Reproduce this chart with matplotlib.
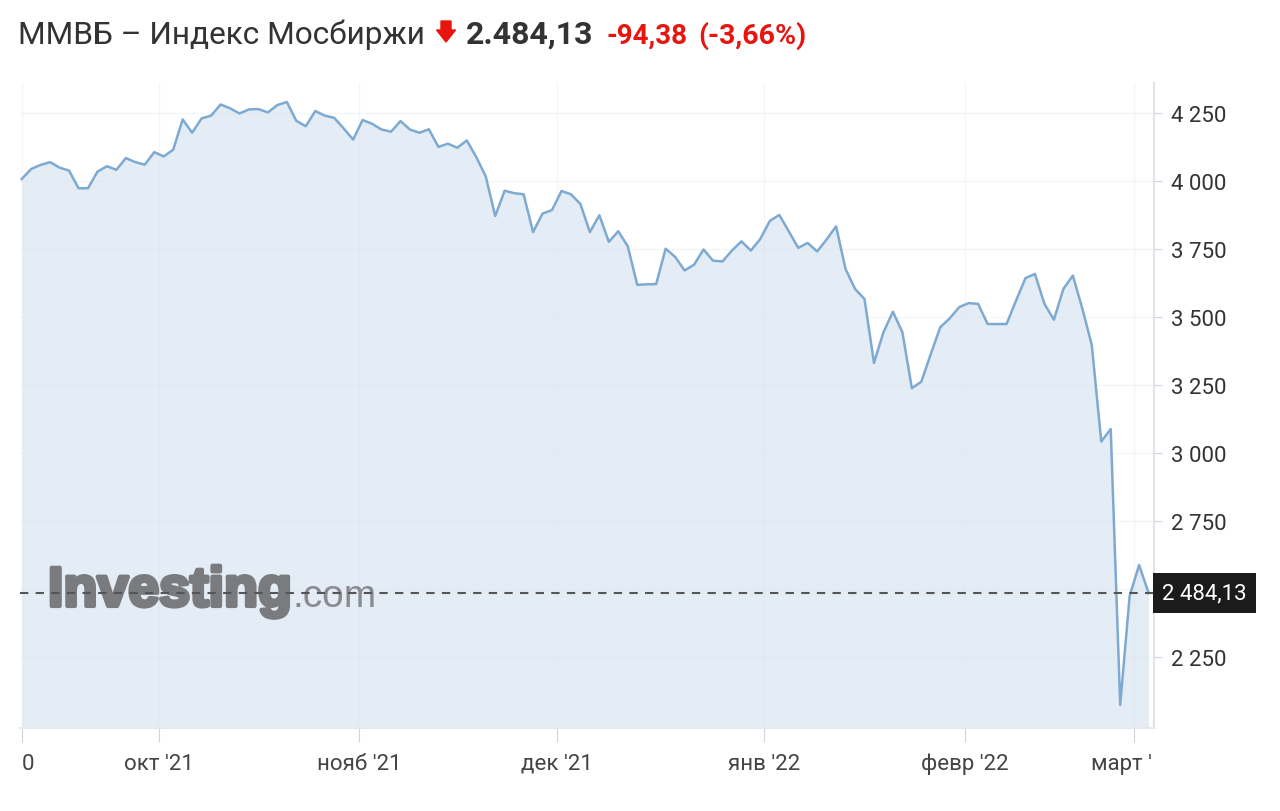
import numpy as np
import matplotlib
matplotlib.use("Agg")
import matplotlib.pyplot as plt
import matplotlib.patheffects as pe
from matplotlib.patches import Rectangle, Polygon

# MOEX index, daily closes, sep 2021 - mar 2022
values = [4006, 4043, 4058, 4068, 4048, 4037, 3972, 3972, 4033, 4053,
          4040, 4083, 4068, 4059, 4105, 4089, 4114, 4225, 4176, 4229,
          4239, 4280, 4266, 4247, 4262, 4263, 4251, 4278, 4289, 4220,
          4200, 4256, 4239, 4231, 4192, 4151, 4223, 4209, 4188, 4180,
          4219, 4188, 4176, 4189, 4124, 4136, 4121, 4148, 4087, 4016,
          3870, 3963, 3954, 3950, 3811, 3879, 3892, 3962, 3950, 3914,
          3811, 3873, 3775, 3814, 3759, 3617, 3619, 3620, 3750, 3720,
          3670, 3691, 3747, 3706, 3703, 3743, 3777, 3743, 3786, 3852,
          3874, 3814, 3753, 3771, 3740, 3784, 3832, 3675, 3602, 3565,
          3330, 3443, 3518, 3443, 3237, 3261, 3363, 3461, 3494, 3535,
          3550, 3547, 3473, 3473, 3473, 3559, 3642, 3657, 3547, 3489,
          3602, 3651, 3530, 3396, 3041, 3087, 2073, 2474, 2587, 2484.13]
last = 2484.13

month_pos = [0, 14.5, 35.6, 56.5, 78.4, 99.6, 117.5]
month_labels = ["0", "окт '21", "нояб '21", "дек '21", "янв '22", "февр '22", "март '22"]

ytick_vals = [2250, 2500, 2750, 3000, 3250, 3500, 3750, 4000, 4250]
ytick_labels = ["2 250", "", "2 750", "3 000", "3 250", "3 500", "3 750", "4 000", "4 250"]

title = "ММВБ – Индекс Мосбиржи"
price_txt = "2.484,13"
change_txt = "-94,38"
pct_txt = "(-3,66%)"

plt.rcParams['font.family'] = ['Roboto', 'DejaVu Sans']

W, H = 1280, 812
fig = plt.figure(figsize=(12.8, 8.12), dpi=100)
ax = fig.add_axes([20/W, 1 - 729/H, (1154-20)/W, (729-84)/H])

x = np.arange(len(values))
line_c = '#7eaad2'
fill_c = '#e4edf5'
ax.fill_between(x, values, 1900, color=fill_c, zorder=1, lw=0)
ax.plot(x, values, color=line_c, lw=1.8, zorder=3)

ax.set_xlim(-0.18, 119.57)
ax.set_ylim(1988, 4359)

# grid (very faint)
for yv in ytick_vals:
    ax.axhline(yv, color='#dfe4ea', alpha=0.35, lw=1, zorder=2)
for xv in month_pos:
    ax.axvline(xv, color='#dfe4ea', alpha=0.3, lw=1, zorder=2)

# current value line
ax.axhline(last, color='#555555', lw=1.5, ls=(0, (4, 3.5)), zorder=6)

ax.yaxis.tick_right()
ax.set_yticks(ytick_vals)
ax.set_yticklabels(ytick_labels)
ax.set_xticks(month_pos)
ax.set_xticklabels(month_labels)
ax.tick_params(axis='y', length=6, color='#d0d3dc', labelsize=16, labelcolor='#333333', pad=6)
ax.tick_params(axis='x', length=10, color='#d0d3dc', labelsize=16, labelcolor='#444444', pad=8)

for s in ['top', 'left']:
    ax.spines[s].set_visible(False)
ax.spines['right'].set_color('#e0e3eb')
ax.spines['bottom'].set_color('#e6e8ee')
ax.spines['right'].set_linewidth(1.5)
ax.spines['bottom'].set_linewidth(1.5)

# clip x labels at right edge of the plot
clip = Rectangle((0, 0), 1153/W, 1, transform=fig.transFigure)
for lab in ax.get_xticklabels():
    lab.set_clip_path(clip)
ax.get_xticklabels()[0].set_ha('left')

# value box
ax.text(1.007, last, "2 484,13", transform=ax.get_yaxis_transform(),
        color='white', fontsize=16, va='center', ha='left',
        bbox=dict(boxstyle='square,pad=0.42', fc='#1b1b1b', ec='none'), zorder=7)

# watermark
wm_y = 1 - (607-84)/645
ax.text(28/1134, wm_y, "Investing", transform=ax.transAxes,
        fontsize=40, fontweight='bold', color='#7a7b7f',
        family=['Liberation Sans', 'DejaVu Sans'], va='baseline', ha='left', zorder=5,
        path_effects=[pe.withStroke(linewidth=3, foreground='#7a7b7f')])
ax.text(272/1134, wm_y, ".com", transform=ax.transAxes,
        fontsize=28, color='#8a8b8f',
        family=['Liberation Sans', 'DejaVu Sans'], va='baseline', ha='left', zorder=5)

# header
base = 1 - 44/H
fig.text(18/W, base, title, fontsize=22.8, color='#333333', va='baseline')
arrow = Polygon([[441/W, 1-22/H], [451/W, 1-22/H], [451/W, 1-31/H], [455.5/W, 1-31/H],
                 [446/W, 1-43/H], [436.5/W, 1-31/H], [441/W, 1-31/H]],
                closed=True, transform=fig.transFigure, color='#e8150f')
fig.patches.append(arrow)
fig.text(466/W, base, price_txt, fontsize=23, fontweight='bold', color='#333333', va='baseline')
fig.text(606/W, base, change_txt, fontsize=20, fontweight='bold', color='#e8150f', va='baseline')
fig.text(698/W, base, pct_txt, fontsize=20.5, fontweight='bold', color='#e8150f', va='baseline')

fig.savefig('out.png', dpi=100)
